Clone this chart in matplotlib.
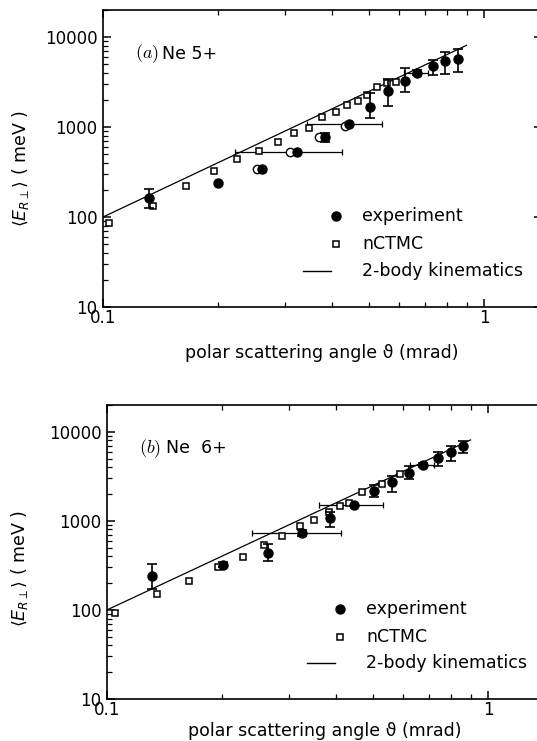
import numpy as np
import matplotlib
matplotlib.use("Agg")
import matplotlib.pyplot as plt
from matplotlib.ticker import FixedLocator, FixedFormatter, NullFormatter

# ---- panel (a): Ne 5+ -------------------------------------------------------
A_EXP_THETA = [0.132, 0.200, 0.262, 0.323, 0.382, 0.442, 0.502, 0.560, 0.620, 0.669, 0.733, 0.790, 0.856]
A_EXP_E = [164, 236, 339, 533, 769, 1079, 1682, 2530, 3268, 4012, 4797, 5454, 5652]
A_EXP_LO = [127, 236, 339, 533, 690, 1079, 1250, 1710, 2465, 3750, 3786, 3880, 4115]
A_EXP_HI = [204, 236, 339, 533, 850, 1079, 2370, 3390, 4490, 4300, 5550, 6870, 7300]

A_HBAR_THETA = [0.323, 0.442, 0.669]
A_HBAR_E = [533, 1079, 4012]
A_HBAR_LO = [0.2225, 0.3436, 0.618]
A_HBAR_HI = [0.425, 0.541, 0.711]

A_OPEN_THETA = [0.253, 0.310, 0.369, 0.431]
A_OPEN_E = [339, 533, 769, 1030]

A_CTMC_THETA = [0.104, 0.135, 0.165, 0.196, 0.225, 0.257, 0.288, 0.318, 0.347,
                0.376, 0.408, 0.438, 0.466, 0.494, 0.525, 0.555, 0.587]
A_CTMC_E = [86, 133, 223, 324, 441, 546, 687, 865, 968,
            1283, 1479, 1755, 1959, 2268, 2761, 3063, 3187]

# ---- panel (b): Ne 6+ -------------------------------------------------------
B_EXP_THETA = [0.131, 0.2016, 0.264, 0.324, 0.385, 0.445, 0.502, 0.561, 0.621, 0.677, 0.737, 0.799, 0.858]
B_EXP_E = [243, 321, 441, 728, 1064, 1500, 2173, 2743, 3436, 4228, 5021, 5873, 6960]
B_EXP_LO = [171, 300, 355, 680, 843, 1500, 1833, 2120, 2944, 4000, 4083, 4720, 5770]
B_EXP_HI = [330, 345, 547, 790, 1262, 1500, 2520, 3206, 4083, 4450, 5860, 6960, 7925]

B_HBAR_THETA = [0.324, 0.445, 0.677]
B_HBAR_E = [728, 1500, 4228]
B_HBAR_LO = [0.240, 0.360, 0.625]
B_HBAR_HI = [0.412, 0.531, 0.720]

B_CTMC_THETA = [0.105, 0.135, 0.164, 0.196, 0.2275, 0.258, 0.288, 0.321, 0.349,
                0.383, 0.409, 0.431, 0.468, 0.528, 0.587]
B_CTMC_E = [93, 149, 212, 306, 394, 537, 678, 879, 1019,
            1241, 1452, 1582, 2120, 2585, 3350]

# 2-body kinematics line (straight in log-log)
KIN_THETA = [0.1, 0.9]
KIN_E = [100, 8100]

FS = 12
plt.rcParams.update({
    "font.family": ["DejaVu Sans"],
    "font.size": FS,
    "axes.linewidth": 1.2,
})

fig = plt.figure(figsize=(5.37, 7.41), dpi=100)

# right spine sits just past the cropped edge of the scan -> only tick tips show
XMAX = 1.42


def panel(rect, exp_t, exp_e, exp_lo, exp_hi, hb_t, hb_e, hb_lo, hb_hi,
          ct_t, ct_e, tag, name, open_t=None, open_e=None):
    ax = fig.add_axes(rect)
    ax.set_xscale("log")
    ax.set_yscale("log")
    ax.set_xlim(0.1, XMAX)
    ax.set_ylim(10, 20000)

    ax.plot(KIN_THETA, KIN_E, "-", color="black", lw=0.9, zorder=2)

    ax.plot(ct_t, ct_e, "s", ms=5.0, mfc="white", mec="black", mew=1.1,
            ls="none", zorder=3)
    if open_t is not None:
        ax.plot(open_t, open_e, "o", ms=6.0, mfc="white", mec="black", mew=1.0,
                ls="none", zorder=3)

    # horizontal angular-resolution bars
    hb_t = np.array(hb_t); hb_e = np.array(hb_e)
    ax.errorbar(hb_t, hb_e, xerr=[hb_t - np.array(hb_lo), np.array(hb_hi) - hb_t],
                fmt="none", ecolor="black", elinewidth=0.9, capsize=2.5,
                capthick=0.9, zorder=2)

    # vertical error bars only where they exist
    t = np.array(exp_t); e = np.array(exp_e)
    lo = np.array(exp_lo); hi = np.array(exp_hi)
    m = (hi - lo) > 0
    ax.errorbar(t[m], e[m], yerr=[e[m] - lo[m], hi[m] - e[m]], fmt="none",
                ecolor="black", elinewidth=1.2, capsize=3.5, capthick=1.2, zorder=4)
    ax.plot(t, e, "o", ms=6.5, mfc="black", mec="black", ls="none", zorder=5)

    # ticks: all inward, on all four sides
    ax.tick_params(which="both", direction="in", top=True, right=True)
    ax.tick_params(which="major", length=5.5, width=1.1)
    ax.tick_params(which="minor", length=3.5, width=0.9)
    ax.tick_params(axis="y", pad=4, labelsize=FS)
    ax.tick_params(axis="x", pad=1.5, labelsize=FS)
    ax.xaxis.set_major_locator(FixedLocator([0.1, 1]))
    ax.xaxis.set_major_formatter(FixedFormatter(["0.1", "1"]))
    ax.xaxis.set_minor_locator(FixedLocator([0.2, 0.3, 0.4, 0.5, 0.6, 0.7, 0.8, 0.9]))
    ax.xaxis.set_minor_formatter(NullFormatter())
    ax.yaxis.set_major_locator(FixedLocator([10, 100, 1000, 10000]))
    ax.yaxis.set_major_formatter(FixedFormatter(["10", "100", "1000", "10000"]))
    ax.yaxis.set_minor_locator(FixedLocator(
        [k * 10 ** p for p in range(1, 5) for k in range(2, 10)]))
    ax.yaxis.set_minor_formatter(NullFormatter())

    # hand-placed legend, as in the original figure
    tr = ax.transAxes
    ax.plot([0.530], [0.305], "o", ms=6.5, color="black", transform=tr, clip_on=False)
    ax.plot([0.530], [0.212], "s", ms=4.5, mfc="white", mec="black", mew=1.1,
            transform=tr, clip_on=False)
    ax.plot([0.455, 0.520], [0.122, 0.122], "-", color="black", lw=1.0,
            transform=tr, clip_on=False)
    for y, s in [(0.305, "experiment"), (0.212, "nCTMC"), (0.122, "2-body kinematics")]:
        ax.text(0.590, y, s, transform=tr, ha="left", va="center", fontsize=FS + 0.5)

    ax.text(0.073, 0.852, r"$(%s)$" % tag, transform=tr, ha="left", va="center",
            fontsize=FS + 1, math_fontfamily="cm")
    ax.text(0.073 + 0.062, 0.852, name, transform=tr, ha="left", va="center",
            fontsize=FS + 0.5)
    return ax


panel([0.1918, 0.5857, 0.8175, 0.4008],
      A_EXP_THETA, A_EXP_E, A_EXP_LO, A_EXP_HI,
      A_HBAR_THETA, A_HBAR_E, A_HBAR_LO, A_HBAR_HI,
      A_CTMC_THETA, A_CTMC_E, "a", "Ne 5+",
      open_t=A_OPEN_THETA, open_e=A_OPEN_E)
panel([0.1993, 0.0567, 0.8175, 0.3968],
      B_EXP_THETA, B_EXP_E, B_EXP_LO, B_EXP_HI,
      B_HBAR_THETA, B_HBAR_E, B_HBAR_LO, B_HBAR_HI,
      B_CTMC_THETA, B_CTMC_E, "b", "Ne  6+")

ylab = r"$\langle E_{R\perp}\rangle$ ( meV )"
fig.text(0.038, 0.772, ylab, rotation=90, ha="center", va="center", fontsize=FS + 0.5)
fig.text(0.036, 0.232, ylab, rotation=90, ha="center", va="center", fontsize=FS + 0.5)

xlab = "polar scattering angle \u03d1 (mrad)"
fig.text(0.600, 0.524, xlab, ha="center", va="center", fontsize=FS + 0.5)
fig.text(0.605, 0.0135, xlab, ha="center", va="center", fontsize=FS + 0.5)

fig.savefig("out.png", dpi=100)
